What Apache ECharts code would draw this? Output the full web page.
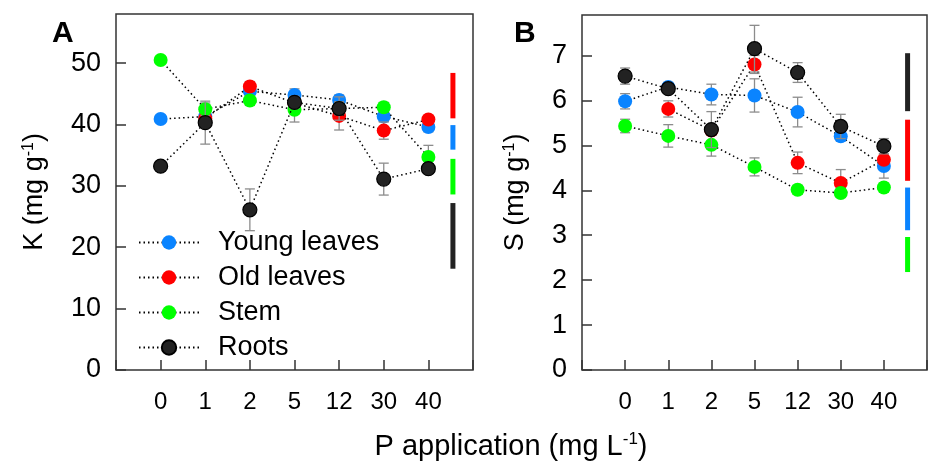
<!DOCTYPE html>
<html><head><meta charset="utf-8">
<script src="https://cdn.jsdelivr.net/npm/echarts@6/dist/echarts.min.js"></script>
<style>html,body{margin:0;padding:0;background:#fff}#c{width:930px;height:464px}</style>
</head><body><div id="c"></div>
<script>
// ---------- data ----------
const categories = ['0', '1', '2', '5', '12', '30', '40'];
const seriesNames = ['Young leaves', 'Old leaves', 'Stem', 'Roots'];

// Panel A: K (mg g-1)  (null = point not visible in the source)
const kYoung = [40.9, 41.3, 45.4, 44.8, 44.0, 41.3, 39.6];
const kOld   = [null, 41.0, 46.2, 43.5, 41.4, 39.0, 40.8];
const kStem  = [50.5, 42.5, 43.9, 42.4, 42.6, 42.8, 34.7];
const kRoots = [33.2, 40.3, 26.1, 43.6, 42.6, 31.1, 32.8];
const kYoungErr = [0.5, 0.8, 0.8, 1.0, 0.8, 0.8, 0.8];
const kOldErr   = [0.5, 0.8, 0.8, 1.0, 2.3, 1.4, 0.6];
const kStemErr  = [0.5, 1.0, 0.8, 2.0, 1.0, 0.8, 1.9];
const kRootsErr = [0.5, 3.5, 3.4, 1.0, 1.9, 2.6, 0.8];
// LSD bars A (low, high), in order of names
const kLsdNames = ['Old leaves', 'Young leaves', 'Stem', 'Roots'];
const kLsdRange = [[41.0, 48.4], [35.9, 39.9], [28.6, 34.4], [16.5, 27.2]];

// Panel B: S (mg g-1)
const sYoung = [5.98, 6.30, 6.13, 6.11, 5.74, 5.20, 4.54];
const sOld   = [null, 5.81, 5.33, 6.80, 4.61, 4.16, 4.68];
const sStem  = [5.43, 5.21, 5.01, 4.52, 4.01, 3.94, 4.06];
const sRoots = [6.54, 6.26, 5.35, 7.15, 6.62, 5.42, 4.98];
const sYoungErr = [0.17, 0.10, 0.23, 0.37, 0.33, 0.10, 0.27];
const sOldErr   = [0.10, 0.18, 0.10, 0.20, 0.24, 0.30, 0.10];
const sStemErr  = [0.15, 0.25, 0.25, 0.20, 0.10, 0.10, 0.10];
const sRootsErr = [0.18, 0.10, 0.40, 0.52, 0.22, 0.27, 0.17];
const sLsdNames = ['Roots', 'Old leaves', 'Young leaves', 'Stem'];
const sLsdRange = [[5.76, 7.05], [4.21, 5.57], [3.11, 4.06], [2.18, 2.96]];

const kTicks = [0, 10, 20, 30, 40, 50];
const sTicks = [0, 1, 2, 3, 4, 5, 6, 7];

// ---------- styles ----------
const FONT = 'Liberation Sans, Arial, sans-serif';
const colors = {'Young leaves': '#0a84ff', 'Old leaves': '#ff0000', 'Stem': '#00ff00', 'Roots': '#222222'};
const LSD_X = 6.55;

function buildPanel(g, values, errs, lsdNames, lsdRange) {
  const out = [];
  seriesNames.forEach((name, i) => {
    out.push({
      type: 'custom', xAxisIndex: g, yAxisIndex: g, silent: true, z: 2 + 2 * i,
      data: values[i].map((v, j) => [j, v, errs[i][j]]).filter(d => d[1] !== null),
      encode: {x: 0, y: 1},
      renderItem: (params, api) => {
        const x = api.value(0), y = api.value(1), e = api.value(2);
        const t = api.coord([x, y + e]), b = api.coord([x, y - e]);
        const st = {stroke: '#8c8c8c', lineWidth: 1.3};
        return {type: 'group', children: [
          {type: 'line', shape: {x1: t[0], y1: t[1], x2: b[0], y2: b[1]}, style: st},
          {type: 'line', shape: {x1: t[0] - 5, y1: t[1], x2: t[0] + 5, y2: t[1]}, style: st},
          {type: 'line', shape: {x1: b[0] - 5, y1: b[1], x2: b[0] + 5, y2: b[1]}, style: st}
        ]};
      }
    });
    out.push({
      type: 'line', name: name, xAxisIndex: g, yAxisIndex: g, z: 3 + 2 * i,
      data: values[i].map((v, j) => v === null ? null : [j, v]).filter(d => d !== null),
      symbol: 'circle', symbolSize: 14, showSymbol: true,
      itemStyle: {color: colors[name], borderColor: name === 'Roots' ? '#000' : colors[name], borderWidth: name === 'Roots' ? 1.2 : 0, opacity: 1},
      lineStyle: {color: '#000', width: 1.5, type: [1.5, 3]},
      emphasis: {disabled: true}, animation: false
    });
  });
  out.push({
    type: 'custom', xAxisIndex: g, yAxisIndex: g, silent: true, z: 20,
    data: lsdRange.map(r => [LSD_X, r[0], r[1]]),
    encode: {x: 0, y: [1, 2]},
    renderItem: (params, api) => {
      const x = api.value(0), lo = api.value(1), hi = api.value(2);
      const p1 = api.coord([x, hi]), p2 = api.coord([x, lo]);
      return {type: 'rect', shape: {x: p1[0] - 2.5, y: p1[1], width: 5, height: p2[1] - p1[1]},
              style: {fill: colors[lsdNames[params.dataIndex]]}};
    }
  });
  return out;
}

function xAxisCfg(g) {
  return {
    type: 'value', gridIndex: g, min: -1, max: 7, interval: 1,
    axisLine: {show: false, onZero: false}, splitLine: {show: false},
    axisTick: {inside: true, length: 10, lineStyle: {color: '#333', width: 1.5}},
    axisLabel: {margin: 20, fontSize: 24, color: '#000', fontFamily: FONT,
      formatter: v => (Number.isInteger(v) && v >= 0 && v < categories.length) ? categories[v] : ''}
  };
}
function yAxisCfg(g, max, interval, ticks, nameText, nameGap) {
  return {
    type: 'value', gridIndex: g, min: 0, max: max, interval: interval,
    axisLine: {show: false, onZero: false}, splitLine: {show: false},
    axisTick: {inside: true, length: 10, lineStyle: {color: '#333', width: 1.5}},
    axisLabel: {margin: 15, fontSize: 27, color: '#000', fontFamily: FONT, showMaxLabel: false,
      formatter: v => ticks.indexOf(v) >= 0 ? String(v) : ''},
    name: nameText, nameLocation: 'middle', nameRotate: 90, nameGap: nameGap,
    nameTextStyle: {fontSize: 27, color: '#000', fontFamily: FONT, lineHeight: 27,
      rich: {sup: {fontSize: 16, lineHeight: 27, verticalAlign: 'top', fontFamily: FONT, color: '#000'}}}
  };
}

const option = {
  animation: false,
  backgroundColor: '#fff',
  textStyle: {fontFamily: FONT},
  title: [
    {text: 'A', left: 47, top: 14, textStyle: {fontSize: 30, fontWeight: 'bold', color: '#000', fontFamily: FONT}},
    {text: 'B', left: 509, top: 14, textStyle: {fontSize: 30, fontWeight: 'bold', color: '#000', fontFamily: FONT}},
    {text: 'P application (mg L{sup|-1})', left: 506, textAlign: 'center', top: 426,
      textStyle: {fontSize: 29, fontWeight: 'normal', color: '#000', fontFamily: FONT, lineHeight: 32,
        rich: {sup: {fontSize: 17, lineHeight: 32, verticalAlign: 'top', fontFamily: FONT, color: '#000'}}}}
  ],
  legend: {
    orient: 'vertical', left: 138, top: 229, padding: 0, itemWidth: 60, itemHeight: 18, itemGap: 8,
    selectedMode: false, data: seriesNames,
    textStyle: {fontSize: 27, color: '#000', fontFamily: FONT, padding: [0, 0, 0, 14]}
  },
  grid: [
    {left: 116, top: 14, width: 357, height: 356, show: true, borderColor: '#333', borderWidth: 1.5},
    {left: 582, top: 15, width: 356, height: 355, show: true, borderColor: '#333', borderWidth: 1.5}
  ],
  xAxis: [xAxisCfg(0), xAxisCfg(1)],
  yAxis: [
    yAxisCfg(0, 58, 10, kTicks, 'K (mg g{sup|-1})', 68),
    yAxisCfg(1, 7.9, 1, sTicks, 'S (mg g{sup|-1})', 53)
  ],
  series: [].concat(
    buildPanel(0, [kYoung, kOld, kStem, kRoots], [kYoungErr, kOldErr, kStemErr, kRootsErr], kLsdNames, kLsdRange),
    buildPanel(1, [sYoung, sOld, sStem, sRoots], [sYoungErr, sOldErr, sStemErr, sRootsErr], sLsdNames, sLsdRange)
  )
};
const chart = echarts.init(document.getElementById('c'), null, {renderer: 'canvas'});
chart.setOption(option);
</script></body></html>
